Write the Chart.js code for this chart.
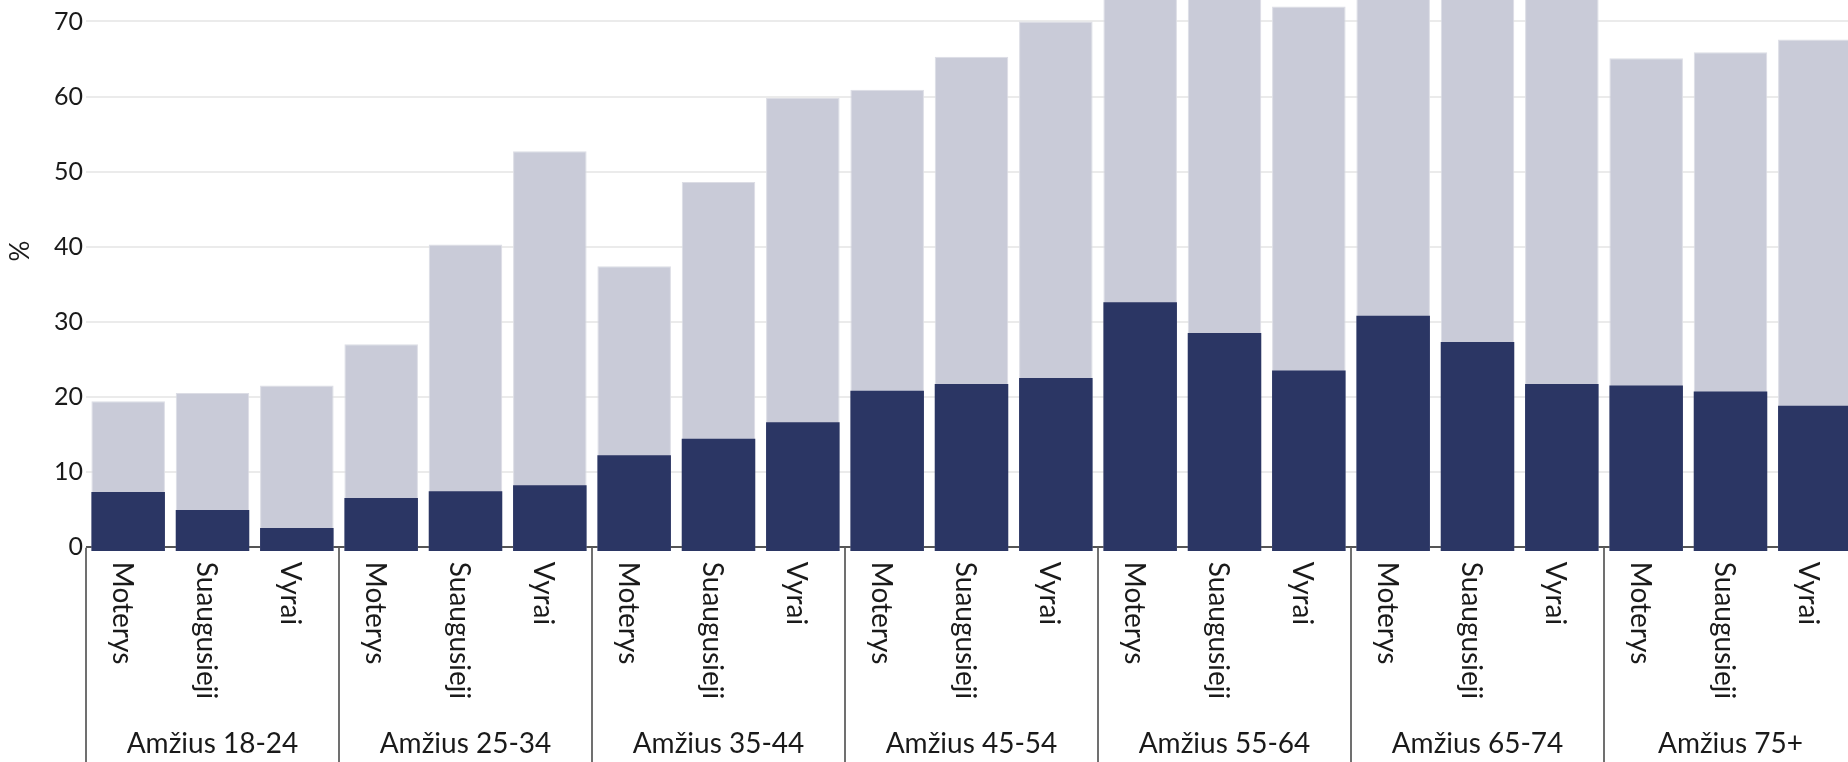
<!DOCTYPE html>
<html><head><meta charset="utf-8">
<script src="https://cdn.jsdelivr.net/npm/chart.js@4"></script>
<style>
html,body{margin:0;padding:0;overflow:hidden;background:#fff}
#wrap{width:1857px;height:762px;position:relative}
</style></head>
<body><div id="wrap"><canvas id="c"></canvas></div>
<script>
const groups = ['Amžius 18-24','Amžius 25-34','Amžius 35-44','Amžius 45-54','Amžius 55-64','Amžius 65-74','Amžius 75+'];
const subgroups = ['Moterys','Suaugusieji','Vyrai'];
// dark series (front bars)
const darkValues = [7.3, 4.9, 2.5,  6.5, 7.4, 8.2,  12.2, 14.4, 16.6,  20.8, 21.7, 22.5,  32.6, 28.5, 23.5,  30.8, 27.3, 21.7,  21.5, 20.7, 18.8];
// light series (back bars, totals)
const lightValues = [19.4, 20.5, 21.5,  27.0, 40.3, 52.7,  37.4, 48.6, 59.8,  60.9, 65.3, 70.0,  75.0, 74.5, 72.0,  76.0, 75.5, 74.0,  65.1, 65.9, 67.6];
const yTickValues = [0,10,20,30,40,50,60,70];
const yTitle = '%';
const yMin = -0.55, yMax = 72.86;

const categories = groups.flatMap(() => subgroups);
const FONT = 'Lato, "Noto Sans", sans-serif';
const TEXT = '#1a1a1a';

const groupLabelPlugin = {
  id: 'groupLabels',
  afterDraw(chart) {
    const {ctx, scales: {x, y}} = chart;
    const axisY = y.getPixelForValue(0);
    ctx.save();
    ctx.strokeStyle = '#707070';
    ctx.lineWidth = 2;
    for (let g = 0; g <= groups.length; g++) {
      const px = Math.round(x.getPixelForValue(g * subgroups.length - 0.5));
      ctx.beginPath(); ctx.moveTo(px, axisY + 1); ctx.lineTo(px, chart.height); ctx.stroke();
    }
    ctx.fillStyle = TEXT;
    ctx.font = '28px ' + FONT;
    ctx.textAlign = 'left';
    ctx.textBaseline = 'alphabetic';
    categories.forEach((c, i) => {
      const cx = x.getPixelForValue(i);
      ctx.save();
      ctx.translate(cx - 15.5, axisY + 15);
      ctx.rotate(Math.PI / 2);
      ctx.fillText(c, 0, 0);
      ctx.restore();
    });
    ctx.font = '28px ' + FONT;
    ctx.textAlign = 'center';
    groups.forEach((g, k) => {
      const cx = x.getPixelForValue(k * subgroups.length + 1);
      ctx.fillText(g, cx, 753);
    });
    // y axis title
    ctx.font = '26px ' + FONT;
    ctx.textBaseline = 'middle';
    ctx.save();
    ctx.translate(21, 251);
    ctx.rotate(-Math.PI / 2);
    ctx.fillText(yTitle, 0, 0);
    ctx.restore();
    ctx.restore();
  }
};

new Chart(document.getElementById('c'), {
  type: 'bar',
  data: {
    labels: categories,
    datasets: [
      {label: 'dark', data: darkValues, backgroundColor: '#2b3664', borderWidth: 0, base: yMin},
      {label: 'light', data: lightValues, backgroundColor: '#c9cbd8', borderColor: '#dcdde5', borderWidth: 1, base: yMin}
    ]
  },
  options: {
    responsive: true,
    maintainAspectRatio: false,
    animation: false,
    layout: {padding: 0},
    plugins: {legend: {display: false}, tooltip: {enabled: false}},
    datasets: {bar: {categoryPercentage: 1, barPercentage: 0.872}},
    scales: {
      x: {
        type: 'category',
        stacked: true,
        grid: {display: false},
        border: {display: false},
        ticks: {display: false},
        afterFit(s) { s.height = 211; s.paddingLeft = 0; s.paddingRight = 0; }
      },
      y: {
        stacked: false,
        min: yMin,
        max: yMax,
        border: {display: false},
        afterFit(s) { s.width = 86; s.paddingTop = 0; s.paddingBottom = 0; },
        afterBuildTicks(s) { s.ticks = yTickValues.map(v => ({value: v})); },
        grid: {
          drawTicks: false,
          color: c => (c.tick && c.tick.value === 0) ? '#555555' : '#ebebeb',
          lineWidth: 2
        },
        ticks: {padding: 3, color: TEXT, font: {family: FONT, size: 25}},
        title: {display: false}
      }
    }
  },
  plugins: [groupLabelPlugin]
});
</script>
</body></html>
